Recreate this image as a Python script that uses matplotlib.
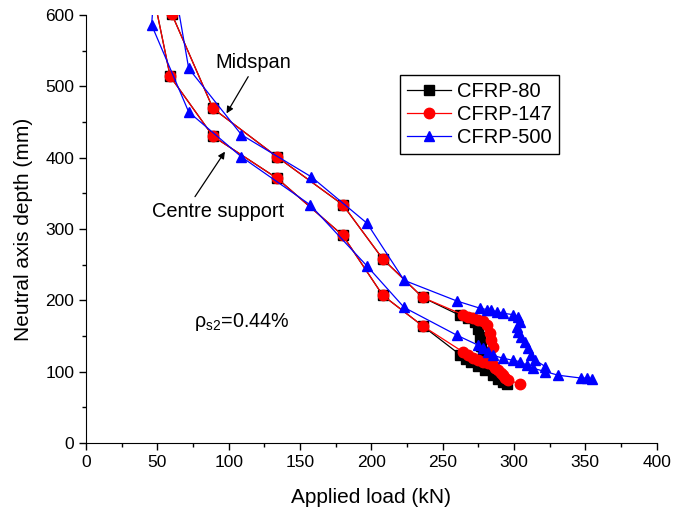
import numpy as np
import matplotlib
matplotlib.use("Agg")
import matplotlib.pyplot as plt

plt.rcParams["font.family"] = ["Liberation Sans", "DejaVu Sans"]
plt.rcParams["mathtext.fontset"] = "custom"
plt.rcParams["mathtext.rm"] = "Liberation Sans"
plt.rcParams["mathtext.it"] = "Liberation Sans:italic"

# CFRP-80
mid80_load = [58, 60, 89, 134, 180, 208, 236, 262, 268, 273, 275, 276, 277, 278]
mid80_depth = [650, 602, 469, 401, 334, 258, 204, 179, 175, 170, 160, 148, 136, 127]
cen80_load = [45, 59, 89, 134, 180, 208, 236, 262, 266, 270, 275, 280, 285, 289, 292, 295]
cen80_depth = [650, 514, 430, 371, 291, 207, 164, 124, 118, 113, 108, 102, 96, 90, 85, 82]

# CFRP-147
mid147_load = [58, 60, 89, 134, 180, 208, 236, 264, 268, 271, 275, 278, 281, 283, 284, 285]
mid147_depth = [650, 602, 469, 401, 334, 258, 204, 180, 177, 175, 173, 171, 165, 154, 144, 135]
cen147_load = [45, 59, 89, 134, 180, 208, 236, 264, 268, 271, 275, 278, 282, 285, 287, 289,
               291, 292, 294, 296, 304]
cen147_depth = [650, 514, 430, 371, 291, 207, 164, 128, 123, 119, 116, 114, 112, 109, 105, 102,
                98, 95, 91, 88, 83]

# CFRP-500
mid500_load = [62, 72, 109, 158, 197, 223, 260, 276, 281, 284, 288, 292, 299, 303, 304, 302,
               303, 305, 308, 310, 312, 315, 322]
mid500_depth = [640, 525, 432, 373, 308, 228, 199, 189, 187, 186, 184, 182, 180, 177, 170, 163,
                156, 149, 142, 133, 123, 116, 107]
cen500_load = [48, 46, 72, 109, 157, 197, 223, 260, 275, 278, 282, 285, 292, 299, 304, 309,
               313, 322, 331, 347, 351, 355]
cen500_depth = [640, 586, 464, 401, 334, 248, 190, 151, 137, 133, 128, 123, 119, 116, 114, 109,
                105, 100, 95, 91, 91, 89]

fig = plt.figure(figsize=(6.77, 5.16), dpi=100)
ax = fig.add_axes([0.127, 0.1415, 0.843, 0.8295])

ax.plot(mid80_load, mid80_depth, "-s", color="black", lw=0.9, ms=6.5, label="CFRP-80", zorder=2)
ax.plot(cen80_load, cen80_depth, "-s", color="black", lw=0.9, ms=6.5, zorder=2)
ax.plot(mid147_load, mid147_depth, "-o", color="red", lw=0.9, ms=7.5, label="CFRP-147", zorder=3)
ax.plot(cen147_load, cen147_depth, "-o", color="red", lw=0.9, ms=7.5, zorder=3)
ax.plot(mid500_load, mid500_depth, "-^", color="blue", lw=0.9, ms=7.5, label="CFRP-500", zorder=4)
ax.plot(cen500_load, cen500_depth, "-^", color="blue", lw=0.9, ms=7.5, zorder=4)

ax.set_xlim(0, 400)
ax.set_ylim(0, 600)
ax.set_xticks(np.arange(0, 401, 50))
ax.set_xticks(np.arange(25, 400, 50), minor=True)
ax.set_yticks(np.arange(0, 601, 100))
ax.set_yticks(np.arange(50, 600, 100), minor=True)
ax.spines["top"].set_visible(False)
ax.spines["right"].set_visible(False)
ax.tick_params(which="major", direction="out", length=5, width=1, labelsize=12.5)
ax.tick_params(which="minor", direction="out", length=3, width=1)

ax.set_xlabel("Applied load (kN)", fontsize=15, labelpad=13)
ax.set_ylabel("Neutral axis depth (mm)", fontsize=15, labelpad=9)

arrow = dict(arrowstyle="-|>", color="black", lw=0.9, mutation_scale=10, shrinkA=0, shrinkB=0)
ax.text(117, 534, "Midspan", fontsize=14.4, ha="center", va="center")
ax.annotate("", xy=(98.5, 462), xytext=(113.7, 513.5), arrowprops=arrow)
ax.text(92.5, 325, "Centre support", fontsize=14.4, ha="center", va="center")
ax.annotate("", xy=(97.4, 408.4), xytext=(76.4, 345.3), arrowprops=arrow)
ax.text(76, 170, r"$\mathrm{\rho}_{\mathrm{s2}}$=0.44%", fontsize=14.2, ha="left", va="center")

leg = ax.legend(loc="upper left", bbox_to_anchor=(0.55, 0.86), borderaxespad=0,
                fancybox=False, edgecolor="black", fontsize=14.5, handlelength=2.2,
                handletextpad=0.3, labelspacing=0.2, borderpad=0.35, framealpha=1)
leg.get_frame().set_linewidth(1.0)

plt.savefig("out.png", dpi=100)
